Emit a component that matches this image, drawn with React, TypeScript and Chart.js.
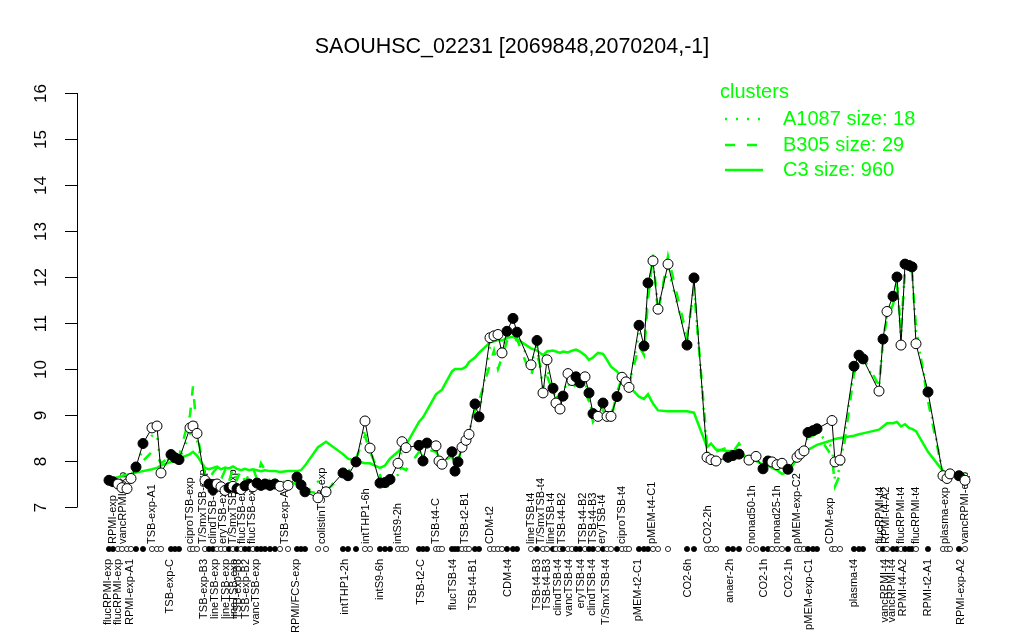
import React, { useEffect, useRef } from "react";
import { Chart, registerables } from "chart.js";

Chart.register(...registerables);

const FONT = '"Liberation Sans", Arial, Helvetica, sans-serif';
const GREEN = "#00ff00";

const title = "SAOUHSC_02231 [2069848,2070204,-1]";
const legendTitle = "clusters";
const clusterNames = ["A1087 size: 18", "B305 size: 29", "C3 size: 960"];
const yTicks = [7, 8, 9, 10, 11, 12, 13, 14, 15, 16];

// sample positions along the x axis (sample slots, groups separated by gaps)
const positions = [
  1.2, 2, 3, 3.8, 4.8, 5.6, 6.6, 8, 9.8, 10.8, 11.6, 13.6, 14.4, 15.2, 17.4, 18, 18.8,
  20.4, 21.2, 22, 22.8, 23.6, 24.4, 25.2, 26, 26.8, 27.6, 28.4, 29.2, 30, 30.8, 31.6, 32.4, 33.4, 34.4, 35.4, 37,
  38.8, 39.6, 40.4, 43, 44.6, 48, 49, 50.6, 52.4, 53.4, 55.4, 56.4, 57.4, 59, 59.8, 60.6,
  63.2, 64, 64.8, 66.6, 67.2, 67.8, 69.8, 70.4, 71, 71.8, 72.6, 73.2, 74.4, 75.2,
  77.4, 78.2, 79, 79.8, 80.8, 82, 82.8, 85.6, 86.8, 88, 88.8, 90, 90.6, 91.4, 92, 93, 93.8, 94.6, 95.4, 96.4, 97.2, 98, 99, 100, 100.8, 101.6, 102.8, 103.8, 104.6, 105.2,
  107.2, 108.2, 109, 110, 111, 113, 116.8, 118.2,
  120.8, 121.6, 122.6, 125, 126, 127.2, 129.2, 130.6, 132, 133, 133.8, 134.8, 135.8, 137, 138.8, 139.4, 140.2, 141, 142, 142.8, 145.8, 146.4, 147.4,
  150.2, 151.2, 152, 155.2, 156, 156.8, 158, 158.8, 159.6, 160.4, 161.2, 161.8, 162.6, 165, 168, 168.8, 169.4, 171.2, 172.4,
];

// gene expression values (black line)
const values = [
  7.58, 7.55, 7.5, 7.42, 7.4, 7.62, 7.87, 8.38, 8.72, 8.76, 7.74, 8.14, 8.07, 8.03, 8.72, 8.76, 8.6,
  7.58, 7.5, 7.38, 7.5, 7.44, 7.36, 7.42, 7.45, 7.4, 7.38, 7.46, 7.5, 7.44, 7.52, 7.47, 7.5, 7.47, 7.5, 7.45, 7.47,
  7.65, 7.48, 7.33, 7.2, 7.33, 7.74, 7.68, 7.98, 8.87, 8.28, 7.52, 7.53, 7.6, 7.95, 8.42, 8.29,
  8.34, 8.0, 8.39, 8.33, 8.0, 7.93, 8.2, 7.78, 7.98, 8.3, 8.45, 8.58, 9.24, 8.96,
  10.68, 10.72, 10.75, 10.35, 10.82, 11.1, 10.8, 10.09, 10.62, 9.48, 10.2, 9.58, 9.26, 9.13, 9.41, 9.9, 9.75, 9.83, 9.7, 9.83, 9.48, 9.03, 8.97, 9.26, 8.97, 8.97, 9.4, 9.82, 9.72, 9.6,
  10.95, 10.5, 11.87, 12.35, 11.3, 12.28, 10.52, 11.98,
  8.08, 8.03, 8.0, 8.08, 8.12, 8.15, 8.02, 8.1, 7.83, 8.0, 7.98, 7.92, 7.95, 7.82, 8.08, 8.15, 8.22, 8.62, 8.66, 8.7, 8.88, 7.98, 8.02,
  10.06, 10.3, 10.22, 9.52, 10.65, 11.25, 11.58, 12.0, 10.52, 12.28, 12.25, 12.22, 10.55, 9.5, 7.68, 7.62, 7.72, 7.68, 7.58,
];

// 1 = filled marker, 0 = open marker
const filled = [
  1, 1, 0, 0, 0, 0, 1, 1, 0, 0, 0, 1, 1, 1, 0, 0, 0,
  0, 1, 1, 0, 0, 0, 1, 0, 1, 0, 1, 1, 0, 1, 1, 1, 1, 1, 0, 0,
  1, 1, 1, 0, 0, 1, 1, 1, 0, 0, 1, 1, 1, 0, 0, 0,
  1, 1, 1, 0, 0, 0, 1, 1, 1, 0, 0, 0, 1, 1,
  0, 0, 0, 0, 1, 1, 1, 0, 1, 0, 0, 1, 0, 0, 1, 0, 0, 1, 1, 0, 1, 1, 0, 1, 0, 0, 1, 0, 0, 0,
  1, 1, 1, 0, 0, 0, 1, 1,
  0, 0, 0, 1, 1, 1, 0, 0, 1, 1, 0, 0, 0, 1, 0, 0, 0, 1, 1, 1, 0, 0, 0,
  1, 1, 1, 0, 1, 0, 1, 1, 0, 1, 1, 1, 0, 1, 0, 0, 0, 1, 0,
];

// cluster C3 (solid)
const c3 = [
  7.62, 7.62, 7.65, 7.68, 7.7, 7.72, 7.75, 7.78, 7.82, 7.85, 7.9, 7.98, 8.0, 8.05, 8.15, 8.2, 8.12,
  7.85, 7.82, 7.85, 7.88, 7.82, 7.86, 7.84, 7.88, 7.83, 7.8, 7.83, 7.8, 7.82, 7.8, 7.78, 7.8, 7.78, 7.78, 7.76, 7.78,
  7.78, 7.8, 7.9, 8.3, 8.42, 8.15, 8.05, 8.0, 7.95, 7.95, 7.85, 7.9, 8.05, 8.2, 8.3, 8.35,
  8.85, 8.95, 9.1, 9.45, 9.5, 9.55, 9.95, 10.0, 10.0, 10.0, 10.05, 10.15, 10.25, 10.35,
  10.58, 10.6, 10.63, 10.62, 10.68, 10.7, 10.65, 10.45, 10.4, 10.3, 10.38, 10.4, 10.38, 10.35, 10.38, 10.36, 10.4, 10.42, 10.38, 10.3, 10.2, 10.25, 10.35, 10.33, 10.2, 10.05, 9.95, 9.8, 9.7, 9.62,
  9.4, 9.35, 9.45, 9.25, 9.1, 9.08, 9.08, 9.05,
  8.3, 8.38, 8.25, 8.22, 8.22, 8.2, 8.05, 8.0, 7.92, 7.9, 7.85, 7.8, 7.72, 7.75, 8.05, 8.1, 8.2, 8.25, 8.3, 8.35, 8.45, 8.48, 8.5,
  8.55, 8.58, 8.6, 8.68, 8.75, 8.82, 8.82, 8.85, 8.75, 8.8, 8.72, 8.7, 8.65, 8.2, 7.78, 7.75, 7.72, 7.7, 7.7,
];

// cluster B305 (dashed)
const b305 = [
  7.6, 7.58, 7.55, 7.6, 7.62, 7.7, 7.85, 8.0, 8.2, 8.1, 7.95, 8.1, 8.05, 8.1, 9.0, 9.62, 8.6,
  7.7, 7.6, 7.75, 7.85, 7.6, 7.8, 7.55, 7.85, 7.6, 7.8, 7.55, 7.7, 7.85, 7.6, 7.95, 7.8, 7.55, 7.6, 7.5, 7.55,
  7.5, 7.45, 7.35, 7.3, 7.35, 7.7, 7.75, 8.05, 8.55, 8.2, 7.7, 7.35, 7.55, 7.8, 7.85, 7.8,
  8.2, 8.15, 8.25, 8.2, 8.1, 8.0, 8.1, 7.9, 8.0, 8.3, 8.55, 8.75, 9.1, 9.3,
  10.1, 10.4, 10.0, 10.25, 10.6, 10.5, 10.65, 9.85, 10.3, 9.9, 9.85, 9.5, 9.4, 9.35, 9.6, 9.65, 9.7, 9.6, 9.55, 9.5, 9.3, 8.85, 9.0, 9.1, 8.95, 8.9, 9.5, 9.8, 9.75, 9.65,
  10.5, 10.3, 11.5, 12.5, 11.2, 12.45, 10.7, 11.75,
  8.35, 8.3, 8.2, 8.3, 8.2, 8.38, 8.05, 8.0, 7.9, 7.95, 7.9, 7.85, 7.9, 7.8, 8.1, 8.15, 8.25, 8.5, 8.55, 8.6, 8.1, 7.45, 7.7,
  9.9, 10.15, 10.25, 9.65, 10.6, 11.1, 11.4, 11.8, 10.9, 12.1, 12.2, 12.1, 10.9, 9.3, 7.7, 7.65, 7.7, 7.72, 7.65,
];

// cluster A1087 (dotted)
const a1087 = [
  7.58, 7.55, 7.52, 7.45, 7.42, 7.6, 7.8, 8.3, 8.55, 8.6, 7.8, 8.12, 8.05, 8.02, 8.6, 8.5, 8.45,
  7.62, 7.55, 7.42, 7.5, 7.45, 7.4, 7.45, 7.48, 7.42, 7.45, 7.5, 7.55, 7.48, 7.52, 7.5, 7.55, 7.48, 7.55, 7.5, 7.6,
  7.4, 7.35, 7.3, 7.55, 7.35, 7.75, 7.7, 8.0, 8.7, 8.25, 7.6, 7.55, 7.6, 7.7, 8.3, 8.25,
  8.3, 8.1, 8.3, 8.3, 8.05, 7.95, 8.15, 7.85, 8.0, 8.3, 8.45, 8.6, 9.2, 9.0,
  10.5, 10.6, 10.65, 10.4, 10.75, 10.9, 10.75, 10.1, 10.5, 9.6, 10.0, 9.55, 9.3, 9.2, 9.45, 9.8, 9.75, 9.75, 9.65, 9.7, 9.4, 8.95, 9.05, 9.2, 9.0, 9.0, 9.45, 9.75, 9.7, 9.6,
  10.8, 10.45, 11.7, 12.3, 11.35, 12.2, 10.6, 11.8,
  8.2, 8.1, 8.05, 8.1, 8.12, 8.15, 8.0, 8.05, 7.85, 7.95, 7.9, 7.88, 7.9, 7.8, 8.05, 8.1, 8.2, 8.55, 8.6, 8.65, 8.3, 7.6, 7.85,
  10.0, 10.2, 10.2, 9.6, 10.6, 11.2, 11.5, 11.9, 10.7, 12.2, 12.2, 12.15, 10.8, 9.4, 7.7, 7.65, 7.72, 7.7, 7.6,
];

// sample labels drawn above the marker row
const aboveLabels = [
  "RPMI-exp", "vancRPMI-exp", "TSB-exp-A1", "ciproTSB-exp", "T/SmxTSB-exp", "clindTSB-exp", "eryTSB-exp",
  "T/SmxTSB-exp", "flucTSB-exp", "flucTSB-exp", "TSB-exp-A2", "colistinTSB-exp", "intTHP1-6h", "intS9-2h",
  "TSB-t4-C", "TSB-t2-B1", "CDM-t2", "lineTSB-t4", "T/SmxTSB-t4", "lineTSB-t4", "TSB-t4-B2", "TSB-t4-B2",
  "TSB-t4-B3", "eryTSB-t4", "ciproTSB-t4", "pMEM-t4-C1", "CO2-2h", "nonad50-1h", "nonad25-1h", "pMEM-exp-C2",
  "CDM-exp", "flucRPMI-t4", "RPMI-t4-A2", "flucRPMI-t4", "flucRPMI-t4", "plasma-exp", "vancRPMI-exp",
];
const abovePos = [
  2, 4, 9.8, 17.4, 20, 22, 24, 26, 27.8, 29.8, 36.4, 43.8, 52.6, 59,
  66.6, 72.4, 77.4, 85.6, 87.6, 89.6, 91.8, 96, 98, 99.8, 103.8, 109.8, 121, 129.8, 134.8, 138.8,
  145.4, 155.4, 156.6, 159.6, 162.6, 168.4, 172.4,
];

// sample labels drawn below the marker row
const belowLabels = [
  "flucRPMI-exp", "flucRPMI-exp", "RPMI-exp-A1", "TSB-exp-C", "TSB-exp-B3", "lineTSB-exp", "lineTSB-exp",
  "lineTSB-exp", "TSB-exp-B3", "TSB-exp-B2", "vancTSB-exp", "RPMI/FCS-exp", "intTHP1-2h", "intS9-6h",
  "TSB-t2-C", "flucTSB-t4", "TSB-t4-B1", "CDM-t4", "TSB-t4-B3", "TSB-t4-B3", "clindTSB-t4", "vancTSB-t4",
  "eryTSB-t4", "clindTSB-t4", "T/SmxTSB-t4", "pMEM-t2-C1", "CO2-6h", "anaer-2h", "CO2-1h", "CO2-1h",
  "pMEM-exp-C1", "plasma-t4", "vancRPMI-t4", "vancRPMI-t4", "RPMI-t4-A2", "RPMI-t2-A1", "RPMI-exp-A2",
];
const belowPos = [
  1, 3, 5.4, 13.4, 20.2, 22.4, 24.6, 26.2, 27, 28.6, 30.6, 38.6, 48.4, 55.4,
  63.6, 70, 74, 81, 86.8, 88.8, 91, 93.2, 95.6, 97.8, 100.6, 107, 117, 125.4, 132.2, 137.2,
  141.2, 150.2, 156.4, 157.8, 160, 165, 171.6,
];

const rPlugin = {
  id: "rStyle",
  beforeDatasetsDraw(chart: any) {
    const ctx = chart.ctx;
    const xs = chart.scales.x;
    const ca = chart.chartArea;
    ctx.save();
    ctx.fillStyle = "#000";
    ctx.font = `11px ${FONT}`;
    ctx.textBaseline = "middle";
    aboveLabels.forEach((t, i) => {
      const px = xs.getPixelForValue(abovePos[i]);
      ctx.save();
      ctx.translate(px, ca.bottom + 37);
      ctx.rotate(-Math.PI / 2);
      ctx.textAlign = "left";
      ctx.fillText(t, 0, 0);
      ctx.restore();
    });
    belowLabels.forEach((t, i) => {
      const px = xs.getPixelForValue(belowPos[i]);
      ctx.save();
      ctx.translate(px, ca.bottom + 52);
      ctx.rotate(-Math.PI / 2);
      ctx.textAlign = "right";
      ctx.fillText(t, 0, 0);
      ctx.restore();
    });
    ctx.restore();
  },
  afterDraw(chart: any) {
    const ctx = chart.ctx;
    const ys = chart.scales.y;
    const ca = chart.chartArea;
    ctx.save();
    // marker row
    const meta = chart.getDatasetMeta(0);
    meta.data.forEach((el: any, i: number) => {
      ctx.beginPath();
      ctx.arc(el.x, ca.bottom + 42, 2.6, 0, Math.PI * 2);
      ctx.fillStyle = filled[i] ? "#000" : "#fff";
      ctx.fill();
      ctx.lineWidth = 0.8;
      ctx.strokeStyle = "#000";
      ctx.stroke();
    });
    // y axis (R style)
    const axX = ca.left;
    ctx.strokeStyle = "#000";
    ctx.lineWidth = 1;
    ctx.beginPath();
    ctx.moveTo(axX + 0.5, ys.getPixelForValue(yTicks[0]));
    ctx.lineTo(axX + 0.5, ys.getPixelForValue(yTicks[yTicks.length - 1]));
    ctx.stroke();
    ctx.fillStyle = "#000";
    ctx.font = `17px ${FONT}`;
    ctx.textAlign = "center";
    ctx.textBaseline = "middle";
    yTicks.forEach((t) => {
      const py = Math.round(ys.getPixelForValue(t)) + 0.5;
      ctx.beginPath();
      ctx.moveTo(axX + 0.5, py);
      ctx.lineTo(axX - 12, py);
      ctx.stroke();
      ctx.save();
      ctx.translate(axX - 36, py);
      ctx.rotate(-Math.PI / 2);
      ctx.fillText(String(t), 0, 0);
      ctx.restore();
    });
    // title
    ctx.font = `21.5px ${FONT}`;
    ctx.textAlign = "center";
    ctx.fillText(title, 512, 47);
    // legend
    ctx.fillStyle = GREEN;
    ctx.strokeStyle = GREEN;
    ctx.textAlign = "left";
    ctx.font = `20px ${FONT}`;
    ctx.fillText(legendTitle, 720, 92);
    const rows = [119, 145, 170];
    const dashes = [[2, 9], [10, 12], []];
    rows.forEach((ry, i) => {
      ctx.lineWidth = 2.5;
      ctx.setLineDash(dashes[i]);
      ctx.beginPath();
      ctx.moveTo(725, ry);
      ctx.lineTo(763, ry);
      ctx.stroke();
      ctx.setLineDash([]);
      ctx.fillText(clusterNames[i], 783, ry);
    });
    ctx.restore();
  },
};

export default function App() {
  const ref = useRef<HTMLCanvasElement | null>(null);
  useEffect(() => {
    if (!ref.current) return;
    const pts = (arr: number[]) => arr.map((v, i) => ({ x: positions[i], y: v }));
    const chart = new Chart(ref.current, {
      type: "line",
      data: {
        datasets: [
          {
            label: "gene",
            data: pts(values),
            borderColor: "#000",
            borderWidth: 1,
            pointRadius: 5,
            pointBorderWidth: 1,
            pointBorderColor: "#000",
            pointBackgroundColor: filled.map((f) => (f ? "#000" : "#fff")),
            tension: 0,
            clip: false as any,
          },
          {
            label: clusterNames[0],
            data: pts(a1087),
            borderColor: GREEN,
            borderWidth: 2.5,
            borderDash: [2, 9],
            pointRadius: 0,
            tension: 0,
          },
          {
            label: clusterNames[1],
            data: pts(b305),
            borderColor: GREEN,
            borderWidth: 2.5,
            borderDash: [10, 12],
            pointRadius: 0,
            tension: 0,
          },
          {
            label: clusterNames[2],
            data: pts(c3),
            borderColor: GREEN,
            borderWidth: 2.5,
            pointRadius: 0,
            tension: 0,
          },
        ],
      },
      options: {
        animation: false,
        responsive: false,
        devicePixelRatio: 1,
        layout: { padding: { left: 77, right: 24, top: 93, bottom: 133 } },
        plugins: { legend: { display: false }, tooltip: { enabled: false }, title: { display: false } },
        scales: {
          x: { type: "linear", min: -5.2, max: 179.4, display: false },
          y: { type: "linear", min: 7, max: 16, display: false },
        },
      },
      plugins: [rPlugin],
    });
    return () => chart.destroy();
  }, []);
  return (
    <div style={{ position: "absolute", left: 0, top: 0, width: 1024, height: 640, background: "#fff" }}>
      <canvas ref={ref} width={1024} height={640} />
    </div>
  );
}
